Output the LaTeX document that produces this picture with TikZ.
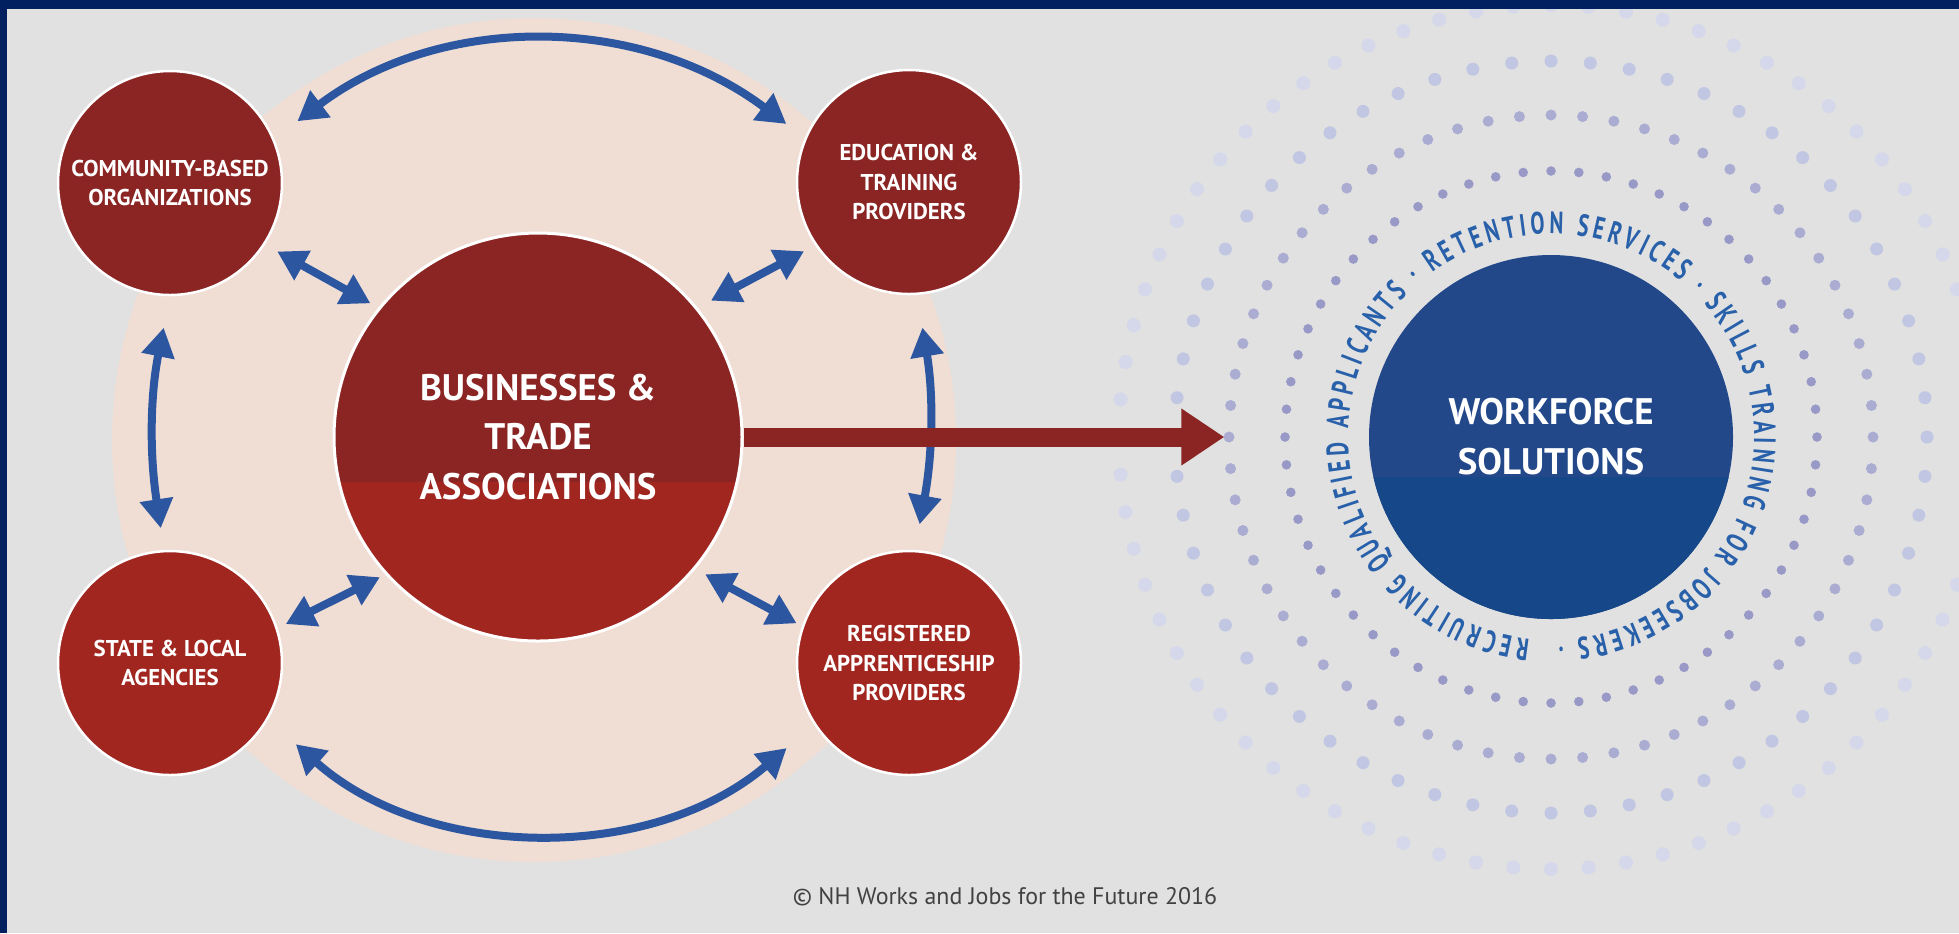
\documentclass[tikz,border=0pt]{standalone}
\usepackage{fontspec}
\setmainfont{PT Sans}
\newfontfamily\ringfont{PT Sans}[FakeStretch=0.68]
\usetikzlibrary{arrows.meta,decorations.text,calc}

\definecolor{navy}{RGB}{0,32,95}
\definecolor{bggray}{RGB}{225,225,225}
\definecolor{peach}{RGB}{240,222,212}
\definecolor{darkred}{RGB}{139,37,36}
\definecolor{lightred}{RGB}{161,38,32}
\definecolor{linkblue}{RGB}{45,86,160}
\definecolor{wfstop}{RGB}{34,72,138}
\definecolor{wfsbot}{RGB}{22,72,137}
\definecolor{ringblue}{RGB}{40,96,170}
\definecolor{dotA}{RGB}{152,153,198}
\definecolor{dotB}{RGB}{170,172,210}
\definecolor{dotC}{RGB}{193,199,227}
\definecolor{dotD}{RGB}{212,216,234}
\definecolor{footgray}{RGB}{65,65,65}

\begin{document}
\begin{tikzpicture}[x=0.1mm, y=0.1mm,
  partner/.style={circle, minimum size=22.4mm, inner sep=0pt, draw=white, line width=0.25mm,
    text=white, align=center, font=\bfseries\fontsize{6.5}{8.5}\selectfont},
  hub/.style={circle, minimum size=#1, inner sep=0pt, text=white, align=center,
    font=\bfseries\fontsize{10.5}{14.2}\selectfont},
  lowerhalf/.style 2 args={path picture={\fill[#1]
    ($(path picture bounding box.center)+(-25mm,-#2)$) rectangle
    ($(path picture bounding box.center)+(25mm,-25mm)$);}},
  link/.style={linkblue, line width=0.8mm,
    {Triangle[length=2.9mm,width=3.2mm]}-{Triangle[length=2.9mm,width=3.2mm]}},
  flow/.style={darkred, line width=1.9mm, -{Triangle[length=4.3mm,width=5.4mm]}},
  footer/.style={text=footgray, font=\fontsize{6.8}{8}\selectfont}
]
  \useasboundingbox (0,0) rectangle (1959,-933);
  \clip (0,0) rectangle (1959,-933);

  \fill[bggray] (0,0) rectangle (1959,-933);
  \fill[peach] (534,-440) circle [radius=422];

  % partners around the hub
  \node[partner, fill=darkred]  (cbo) at (170,-183) {COMMUNITY-BASED\\ORGANIZATIONS};
  \node[partner, fill=darkred]  (edu) at (909,-182) {EDUCATION \&\\TRAINING\\PROVIDERS};
  \node[partner, fill=lightred] (sla) at (170,-663) {STATE \& LOCAL\\AGENCIES};
  \node[partner, fill=lightred] (rap) at (909,-663) {REGISTERED\\APPRENTICESHIP\\PROVIDERS};

  \node[hub=40.8mm, fill=darkred, lowerhalf={lightred}{4.5mm}, draw=white, line width=0.3mm]
    (bta) at (538,-437) {BUSINESSES \&\\TRADE\\ASSOCIATIONS};

  \node[hub=36.4mm, fill=wfstop, lowerhalf={wfsbot}{4mm}]
    (wfs) at (1551,-437) {WORKFORCE\\SOLUTIONS};

  % rings of dots
  \foreach \r/\n/\s/\c in {266/60/4.8/dotA, 322/64/5.5/dotB, 376/60/6.5/dotC, 432/72/7/dotD}
    \foreach \i in {1,...,\n}
      \fill[\c] ([shift={({360/\n*\i}:\r)}]wfs.center) circle [radius=\s];

  \path[decorate, decoration={text along path, text align=fit to path, text color=ringblue,
      text={|\ringfont\bfseries\fontsize{8.8}{8}\selectfont|RECRUITING QUALIFIED APPLICANTS · RETENTION SERVICES · SKILLS TRAINING FOR JOBSEEKERS ·}}]
    ([shift={(-96:203)}]wfs.center) arc [start angle=-96, end angle=-448, radius=203];

  % links
  \draw[link, shorten <=2.9mm, shorten >=2.3mm] (cbo.23) to[bend left=37] (edu.157);
  \draw[link, shorten <=3.7mm, shorten >=3.6mm] (sla.-30) to[bend right=41] (rap.-147);
  \draw[link, shorten <=3.2mm, shorten >=2.2mm] (cbo.-90) to[bend right=10] (sla.93);
  \draw[link, shorten <=3.3mm, shorten >=2.6mm] (edu.-86) to[bend left=10] (rap.87);

  \draw[link, shorten <=1.4mm, shorten >=0.9mm] (cbo.-33) -- (bta.141);
  \draw[link, shorten <=1.25mm, shorten >=1.5mm] (edu.-146) -- (bta.39);
  \draw[link, shorten <=0.9mm, shorten >=0.6mm] (sla.18) -- (bta.-138);
  \draw[link, shorten <=0.6mm, shorten >=1.1mm] (rap.161) -- (bta.-40);

  \draw[flow, shorten >=14.4mm] (bta) -- (wfs);

  \node[footer] (credit) at (1005,-897) {© NH Works and Jobs for the Future 2016};

  \fill[navy] (0,0) rectangle (1959,-9);
  \fill[navy] (0,0) rectangle (7,-933);
\end{tikzpicture}
\end{document}
